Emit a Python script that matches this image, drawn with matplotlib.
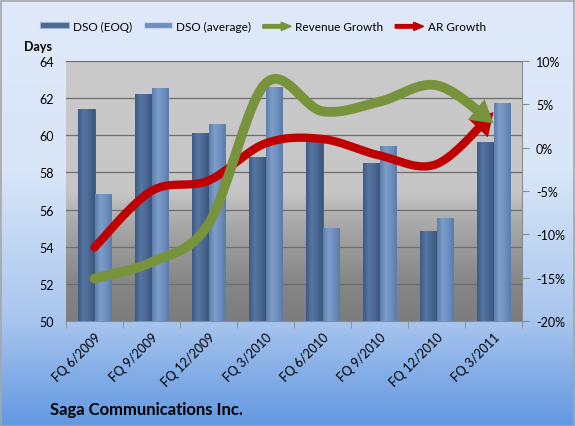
import numpy as np
import matplotlib
matplotlib.use("Agg")
import matplotlib.pyplot as plt
from matplotlib.patches import Rectangle, FancyArrow
from matplotlib.colors import LinearSegmentedColormap
from matplotlib.legend_handler import HandlerPatch

plt.rcParams['font.family'] = ['Lato', 'DejaVu Sans']

quarters = ["FQ 6/2009", "FQ 9/2009", "FQ 12/2009", "FQ 3/2010",
            "FQ 6/2010", "FQ 9/2010", "FQ 12/2010", "FQ 3/2011"]
dso_eoq = [61.4, 62.2, 60.1, 58.8, 59.6, 58.5, 54.8, 59.6]
dso_avg = [56.8, 62.5, 60.6, 62.6, 55.0, 59.4, 55.5, 61.7]
revenue_growth = [-15.1, -13.2, -8.8, 7.4, 4.2, 5.3, 7.2, 2.8]
ar_growth = [-11.5, -5.0, -3.8, 0.5, 1.0, -0.9, -1.9, 4.1]

c_eoq = "#4b6a94"
c_avg = "#6f90be"
c_rev = "#77933c"
c_ar = "#c00000"

W, H = 575, 427
fig = plt.figure(figsize=(W / 100, H / 100), dpi=100)

# figure background gradient
bg = fig.add_axes([0, 0, 1, 1], zorder=-10)
bg_cmap = LinearSegmentedColormap.from_list(
    "bgblue", [(0, "#dfe9f9"), (0.4, "#d9e6f8"), (0.75, "#a9c6ee"), (1, "#6298e0")])
bg.imshow(np.linspace(0, 1, 256)[:, None], aspect="auto", cmap=bg_cmap,
          extent=[0, 1, 0, 1], origin="upper")
bg.set_xlim(0, 1)
bg.set_ylim(0, 1)
bg.axis("off")
fig.patches.append(Rectangle((0.5 / W, 0.5 / H), 1 - 2 / W, 1 - 2 / H, transform=fig.transFigure,
                             fill=False, ec="#a6a6a6", lw=1.2))

ax = fig.add_axes([66 / W, 105 / H, 456 / W, 260 / H])
pa_cmap = LinearSegmentedColormap.from_list(
    "plotgray", [(0, "#cacaca"), (0.5, "#c6c6c6"), (0.62, "#aaaaaa"), (0.85, "#868686"), (1, "#7d7d7d")])
ax.imshow(np.linspace(0, 1, 256)[:, None], aspect="auto", cmap=pa_cmap,
          extent=[0, 1, 0, 1], origin="upper", transform=ax.transAxes, zorder=0)

x = np.arange(len(quarters))
bw = 0.29
bars1 = ax.bar(x - bw / 2, dso_eoq, width=bw, color=c_eoq, edgecolor="#3f5b82", lw=0.6, zorder=3)
bars2 = ax.bar(x + bw / 2, dso_avg, width=bw, color=c_avg, edgecolor="#5a7ca8", lw=0.6, zorder=3)

# soft cylinder-like shading laid over each bar's own rectangle
shade1 = LinearSegmentedColormap.from_list("s1", ["#3d5a83", "#5676a2", "#4a6893", "#3a567d"])
shade2 = LinearSegmentedColormap.from_list("s2", ["#5d7eab", "#7d9dc9", "#6f90be", "#5b7ca8"])
for bars, cm in [(bars1, shade1), (bars2, shade2)]:
    for b in bars:
        x0, y0 = b.get_x(), b.get_y()
        ax.imshow(np.linspace(0, 1, 64)[None, :], aspect="auto", cmap=cm,
                  extent=[x0, x0 + b.get_width(), y0, y0 + b.get_height()], zorder=3.5)

ax.set_xlim(-0.5, len(quarters) - 0.5)
ax.set_ylim(50, 64)
ax.set_yticks(np.arange(50, 65, 2))
ax.yaxis.grid(True, color="#6e6e6e", lw=0.9, zorder=1)
ax.set_axisbelow(False)
ax.tick_params(axis="y", length=0, pad=9, labelsize=9, colors="black")
ax.set_xticks(x)
ax.set_xticklabels(quarters, rotation=45, ha="right", rotation_mode="anchor", fontsize=9)
ax.tick_params(axis="x", which="major", length=0, pad=7)
ax.set_xticks(np.arange(-0.5, len(quarters), 1), minor=True)
ax.tick_params(axis="x", which="minor", length=5, color="#8c8c8c", direction="out")
for s in ["top", "left"]:
    ax.spines[s].set_visible(False)
ax.spines["bottom"].set_color("#8c8c8c")
ax.spines["right"].set_visible(False)

ax2 = ax.twinx()
ax2.set_ylim(-20, 10)
ax2.set_yticks(np.arange(-20, 11, 5))
ax2.set_yticklabels([f"{v}%" for v in range(-20, 11, 5)])
ax2.tick_params(axis="y", length=5, pad=5, labelsize=9, color="#8c8c8c")
for s in ["top", "left", "bottom"]:
    ax2.spines[s].set_visible(False)
ax2.spines["right"].set_color("#8c8c8c")


def smooth(xv, yv, sx=57.0, sy=8.67, n=40):
    P = np.column_stack([np.asarray(xv, float) * sx, np.asarray(yv, float) * sy])
    out = []
    for i in range(len(P) - 1):
        p0, p1, p2 = P[max(i - 1, 0)], P[i], P[i + 1]
        p3 = P[min(i + 2, len(P) - 1)]
        c1 = p1 + (p2 - p0) / 6
        c2 = p2 - (p3 - p1) / 6
        t = np.linspace(0, 1, n)[:, None]
        seg = (1 - t) ** 3 * p1 + 3 * (1 - t) ** 2 * t * c1 + 3 * (1 - t) * t ** 2 * c2 + t ** 3 * p2
        out.append(seg if i == 0 else seg[1:])
    out = np.vstack(out)
    return out[:, 0] / sx, out[:, 1] / sy, out


def arrow_line(vals, color, lw, z):
    xs, ys, px = smooth(x, vals)
    d = np.cumsum(np.r_[0, np.hypot(*np.diff(px, axis=0).T)])
    dist_back = d[-1] - d
    k_line = np.argmin(np.abs(dist_back - 12))
    k_head = np.argmin(np.abs(dist_back - 22))
    ax2.plot(xs[:k_line + 1], ys[:k_line + 1], color=color, lw=lw,
             solid_capstyle="round", zorder=z)
    ax2.annotate("", xy=(xs[-1], ys[-1]), xytext=(xs[k_head], ys[k_head]),
                 arrowprops=dict(arrowstyle="-|>,head_length=1.6,head_width=0.95",
                                 mutation_scale=10, color=color, lw=0,
                                 shrinkA=0, shrinkB=0), zorder=z + 1)


arrow_line(ar_growth, c_ar, 6, 4)
arrow_line(revenue_growth, c_rev, 7, 6)


def make_arrow(legend, orig_handle, xdescent, ydescent, width, height, fontsize):
    return FancyArrow(0, height / 2, width, 0, width=height * 0.55, head_width=height * 1.3,
                      head_length=width * 0.35, length_includes_head=True)


h1 = Rectangle((0, 0), 1, 1, fc=c_eoq, ec="#9fb3d0", lw=0.8)
h2 = Rectangle((0, 0), 1, 1, fc=c_avg, ec="#c5d6ee", lw=0.8)
h3 = FancyArrow(0, 0, 1, 0, color=c_rev)
h4 = FancyArrow(0, 0, 1, 0, color=c_ar)
fig.legend([h1, h2, h3, h4], ["DSO (EOQ)", "DSO (average)", "Revenue Growth", "AR Growth"],
           loc="center", bbox_to_anchor=(263 / W, 1 - 27 / H), ncol=4, frameon=False,
           fontsize=8.5, handlelength=2.4, handleheight=0.45, handletextpad=0.35,
           columnspacing=1.0,
           handler_map={h3: HandlerPatch(patch_func=make_arrow),
                        h4: HandlerPatch(patch_func=make_arrow)})

fig.text(38 / W, 1 - 47 / H, "Days", fontsize=9, fontweight="bold", ha="center", va="center")
fig.text(50 / W, 1 - 410 / H, "Saga Communications Inc.", fontsize=12,
         fontweight="bold", ha="left", va="center")

fig.savefig("out.png", dpi=100)
